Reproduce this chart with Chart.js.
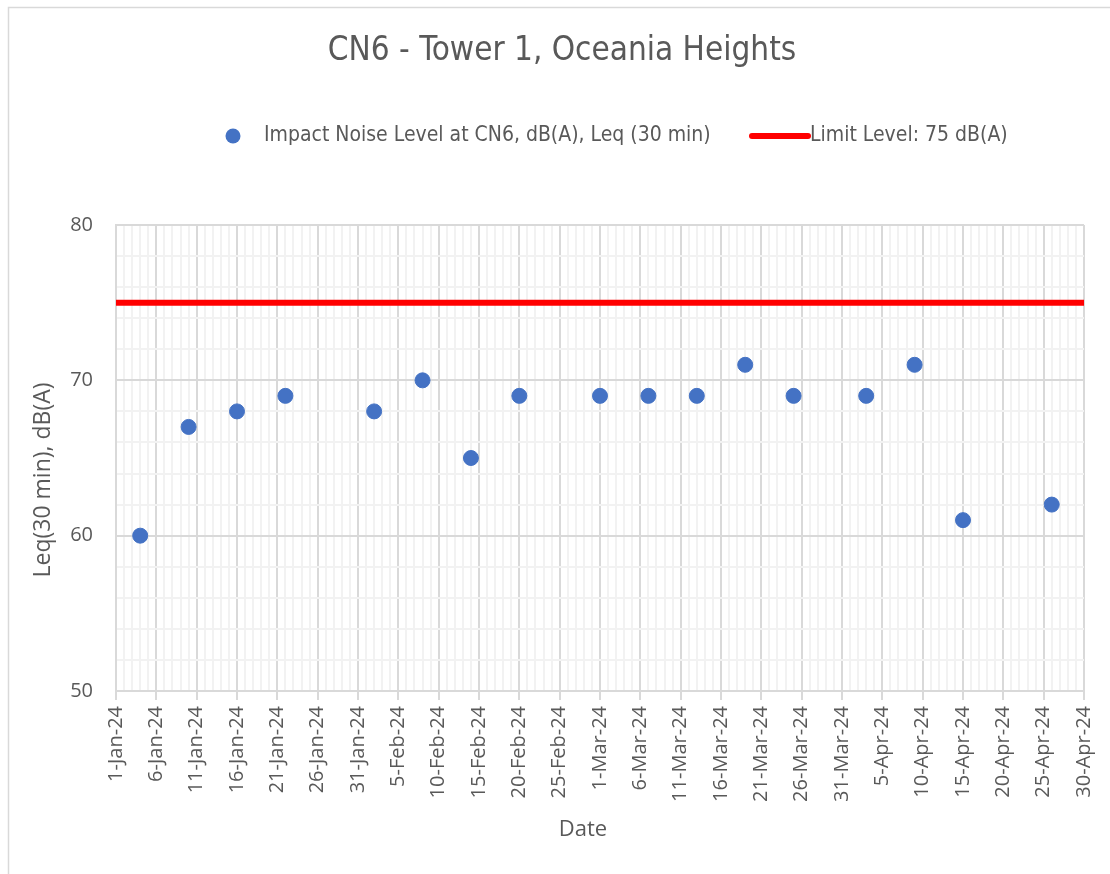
<!DOCTYPE html>
<html lang="en">
  <head>
    <title>CN6 - Tower 1, Oceania Heights</title>
    <style>
      body { margin: 0; background: #fff; }
    </style>
  </head>
  <body>
    <div>
      <canvas id="myChart" width="1110" height="874"></canvas>
    </div>

    <script src="https://cdn.jsdelivr.net/npm/chart.js@4"></script>

    <script>
      // Measurement dates and impact noise levels, dB(A)
      const dates = [
        "2024-01-04", "2024-01-10", "2024-01-16", "2024-01-22", "2024-02-02",
        "2024-02-08", "2024-02-14", "2024-02-20", "2024-03-01", "2024-03-07",
        "2024-03-13", "2024-03-19", "2024-03-25", "2024-04-03", "2024-04-09",
        "2024-04-15", "2024-04-26",
      ];
      const levels = [60, 67, 68, 69, 68, 70, 65, 69, 69, 69, 69, 71, 69, 69, 71, 61, 62];
      const limitLevel = 75;

      const startDate = "2024-01-01";
      const endDate = "2024-04-30";
      const monthNames = ["Jan", "Feb", "Mar", "Apr", "May", "Jun", "Jul", "Aug", "Sep", "Oct", "Nov", "Dec"];

      const seriesName = "Impact Noise Level at CN6, dB(A), Leq (30 min)";
      const limitName = "Limit Level: 75 dB(A)";

      const DAY = 86400000;
      const t0 = Date.parse(startDate);
      const dayOf = (s) => Math.round((Date.parse(s) - t0) / DAY);
      const lastDay = dayOf(endDate);

      const fmtDay = (n) => {
        const d = new Date(t0 + n * DAY);
        return d.getUTCDate() + "-" + monthNames[d.getUTCMonth()] + "-" + String(d.getUTCFullYear()).slice(2);
      };

      const textColor = "#595959";
      const majorGrid = "#d9d9d9";
      const minorGrid = "#f2f2f2";
      const narrowFont = '"Liberation Sans Narrow", "DejaVu Sans Condensed", sans-serif';
      const axisFont = '"Open Sans", sans-serif';

      // title, legend, axis titles and the outer frame
      const decorations = {
        id: "decorations",
        beforeDraw(chart) {
          const c = chart.ctx;
          c.save();
          c.strokeStyle = majorGrid;
          c.lineWidth = 1.5;
          c.beginPath();
          c.moveTo(8.5, chart.height);
          c.lineTo(8.5, 7.5);
          c.lineTo(chart.width, 7.5);
          c.stroke();
          c.restore();
        },
        afterDraw(chart) {
          const c = chart.ctx;
          c.save();
          c.fillStyle = textColor;
          c.textBaseline = "middle";

          c.font = "33px " + narrowFont;
          c.textAlign = "center";
          c.fillText("CN6 - Tower 1, Oceania Heights", 562, 51);

          c.font = "22px " + axisFont;
          c.fillText("Date", 583, 830);

          c.save();
          c.translate(43, 480);
          c.rotate(-Math.PI / 2);
          c.font = "23px " + axisFont;
          c.fillText("Leq(30 min), dB(A)", 0, 0);
          c.restore();

          // legend
          c.font = "21px " + narrowFont;
          c.textAlign = "left";
          c.beginPath();
          c.arc(233, 136, 7.5, 0, Math.PI * 2);
          c.fillStyle = "#4472c4";
          c.fill();
          c.fillStyle = textColor;
          c.fillText(seriesName, 264, 136);

          c.strokeStyle = "#ff0000";
          c.lineWidth = 6;
          c.lineCap = "round";
          c.beginPath();
          c.moveTo(752, 136);
          c.lineTo(808, 136);
          c.stroke();
          c.fillText(limitName, 810, 136);
          c.restore();
        },
      };

      const isMajor = (c) => c.tick && c.tick.value % 5 === 0;

      const ctx = document.getElementById("myChart");
      new Chart(ctx, {
        type: "scatter",
        data: {
          datasets: [
            {
              label: seriesName,
              data: dates.map((d, i) => ({ x: dayOf(d), y: levels[i] })),
              backgroundColor: "#4472c4",
              borderColor: "#4472c4",
              pointRadius: 7.5,
              pointHoverRadius: 7.5,
            },
            {
              label: limitName,
              data: [
                { x: 0, y: limitLevel },
                { x: lastDay, y: limitLevel },
              ],
              showLine: true,
              borderColor: "#ff0000",
              borderWidth: 6,
              pointRadius: 0,
            },
          ],
        },
        options: {
          responsive: false,
          animation: false,
          layout: { padding: { left: 8, top: 225, right: 26, bottom: 0 } },
          plugins: {
            legend: { display: false },
            title: { display: false },
            tooltip: { enabled: false },
          },
          scales: {
            x: {
              type: "linear",
              min: 0,
              max: lastDay,
              afterFit: (s) => {
                s.height = 183;
                s.paddingLeft = 0;
                s.paddingRight = 0;
              },
              ticks: {
                stepSize: 1,
                autoSkip: false,
                minRotation: 90,
                maxRotation: 90,
                padding: 6,
                color: textColor,
                font: { family: axisFont, size: 20 },
                callback: (v) => (v % 5 === 0 ? fmtDay(v) : ""),
              },
              grid: {
                color: (c) => (isMajor(c) ? majorGrid : minorGrid),
                lineWidth: 2,
                tickColor: (c) => (isMajor(c) ? majorGrid : "rgba(0,0,0,0)"),
                tickLength: 9,
              },
              border: { color: majorGrid, width: 2 },
            },
            y: {
              min: 50,
              max: 80,
              afterFit: (s) => { s.width = 108; },
              ticks: {
                stepSize: 1,
                padding: 23,
                color: textColor,
                font: { family: axisFont, size: 20 },
                callback: (v) => (v % 5 === 0 ? v : ""),
              },
              grid: {
                drawTicks: false,
                lineWidth: 2,
                color: (c) => (isMajor(c) ? majorGrid : minorGrid),
              },
              border: { color: majorGrid, width: 2 },
            },
          },
        },
        plugins: [decorations],
      });
    </script>
  </body>
</html>
